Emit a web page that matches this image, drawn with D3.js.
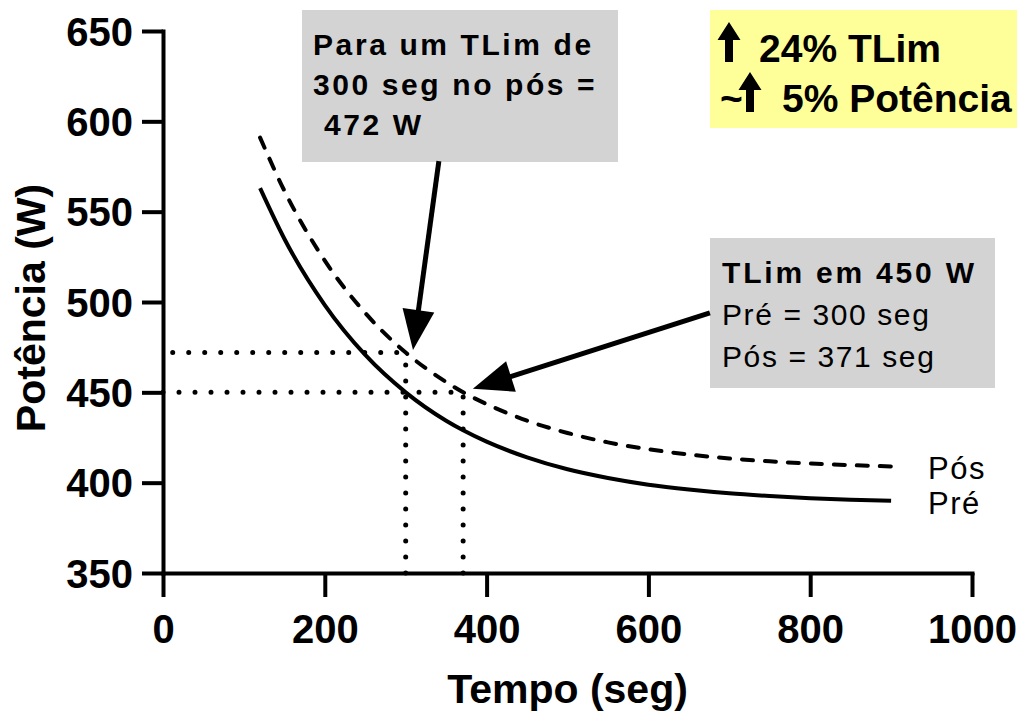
<!DOCTYPE html>
<html>
<head>
<meta charset="utf-8">
<script src="https://cdn.jsdelivr.net/npm/d3@7"></script>
<style>
  html, body { margin: 0; padding: 0; background: #fff; }
  svg { display: block; font-family: "Liberation Sans", Arial, sans-serif; }
  text { white-space: pre; }
</style>
</head>
<body>
<svg id="chart" width="1019" height="716"></svg>
<script>
// Power–duration curves before (Pré) and after (Pós) training
const timeSec = [120, 150, 200, 250, 300, 350, 371, 400, 450, 500, 550, 600, 650, 700, 750, 800, 850, 900];
const powerPre = [563, 535, 498.3, 470.7, 450, 434.3, 429, 422.7, 414, 407.4, 402.6, 398.9, 396.2, 394.1, 392.6, 391.4, 390.6, 390];
const powerPos = [591, 561.6, 522.9, 493.9, 472, 455.7, 450, 443.5, 434.3, 427.5, 422.3, 418.5, 415.6, 413.4, 411.8, 410.6, 409.7, 409];

const xTicks = [0, 200, 400, 600, 800, 1000];
const yTicks = [350, 400, 450, 500, 550, 600, 650];

// Reference points
const tlimPre = 300, tlimPos = 371, refPower = 450, powerAt300Pos = 472;

const svg = d3.select("#chart");
const x = d3.scaleLinear().domain([0, 1000]).range([163, 972]);
const y = d3.scaleLinear().domain([350, 650]).range([573, 31]);

// Axes
const xAxis = svg.append("g")
  .attr("transform", `translate(0,${y(350)})`)
  .call(d3.axisBottom(x).tickValues(xTicks).tickSize(24).tickSizeOuter(0).tickPadding(18).tickFormat(d3.format("d")));
const yAxis = svg.append("g")
  .attr("transform", `translate(${x(0)},0)`)
  .call(d3.axisLeft(y).tickValues(yTicks).tickSize(21).tickSizeOuter(0).tickPadding(9).tickFormat(d3.format("d")));

[xAxis, yAxis].forEach(g => {
  g.select(".domain").attr("stroke", "#000").attr("stroke-width", 4).attr("stroke-linecap", "square");
  g.selectAll(".tick line").attr("stroke", "#000").attr("stroke-width", 4);
  g.selectAll(".tick text").attr("fill", "#000").attr("font-size", 40).attr("font-weight", "bold")
    .attr("font-family", "Liberation Sans, Arial, sans-serif");
});
yAxis.selectAll(".tick text").attr("dy", "0.35em");

// Axis titles
svg.append("text")
  .attr("x", (x(0) + x(1000)) / 2).attr("y", 703)
  .attr("text-anchor", "middle").attr("font-size", 41).attr("font-weight", "bold")
  .text("Tempo (seg)");
svg.append("text")
  .attr("transform", `translate(45,${(y(350) + y(650)) / 2 + 6}) rotate(-90)`)
  .attr("text-anchor", "middle").attr("font-size", 41).attr("font-weight", "bold")
  .text("Potência (W)");

// Dotted reference lines
const dotted = (x1, y1, x2, y2) => svg.append("line")
  .attr("x1", x(x1)).attr("y1", y(y1)).attr("x2", x(x2)).attr("y2", y(y2))
  .attr("stroke", "#000").attr("stroke-width", 5).attr("stroke-linecap", "round")
  .attr("stroke-dasharray", "0 16");
dotted(12, powerAt300Pos, tlimPre, powerAt300Pos);
dotted(0, refPower, tlimPos, refPower);
dotted(tlimPre, 350, tlimPre, powerAt300Pos);
dotted(tlimPos, 350, tlimPos, refPower);

// Curves
const line = d3.line().curve(d3.curveMonotoneX);
svg.append("path")
  .datum(timeSec.map((t, i) => [x(t), y(powerPre[i])]))
  .attr("d", line).attr("fill", "none").attr("stroke", "#000").attr("stroke-width", 4);
svg.append("path")
  .datum(timeSec.map((t, i) => [x(t), y(powerPos[i])]))
  .attr("d", line).attr("fill", "none").attr("stroke", "#000").attr("stroke-width", 4)
  .attr("stroke-linecap", "round").attr("stroke-dasharray", "11 12");

// Series labels
svg.append("text").attr("x", 928).attr("y", y(powerPos[powerPos.length - 1]) + 13)
  .attr("font-size", 31).attr("letter-spacing", 1.5).text("Pós");
svg.append("text").attr("x", 928).attr("y", y(powerPre[powerPre.length - 1]) + 13)
  .attr("font-size", 31).attr("letter-spacing", 1.5).text("Pré");

// Annotation boxes
svg.append("rect").attr("x", 302).attr("y", 10).attr("width", 316).attr("height", 152).attr("fill", "#d3d3d3");
const box1 = ["Para um TLim de", "300 seg no pós =", " 472 W"];
box1.forEach((s, i) => svg.append("text")
  .attr("x", 313).attr("y", 55 + i * 40)
  .attr("font-size", 30).attr("font-weight", "bold").attr("letter-spacing", 2.6)
  .text(s));

svg.append("rect").attr("x", 710).attr("y", 238).attr("width", 285).attr("height", 150).attr("fill", "#d3d3d3");
svg.append("text").attr("x", 722).attr("y", 283)
  .attr("font-size", 30).attr("font-weight", "bold").attr("letter-spacing", 2.8).text("TLim em 450 W");
svg.append("text").attr("x", 722).attr("y", 325)
  .attr("font-size", 30).attr("letter-spacing", 1.6).text("Pré = 300 seg");
svg.append("text").attr("x", 722).attr("y", 367)
  .attr("font-size", 30).attr("letter-spacing", 1.6).text("Pós = 371 seg");

// Summary box
svg.append("rect").attr("x", 710).attr("y", 10).attr("width", 307).attr("height", 118).attr("fill", "#ffff99");
const upArrow = (cx, base) => {
  const top = base - 40, head = 18, hw = 11.5, sw = 4;
  return `M${cx},${top} L${cx + hw},${top + head} L${cx + sw},${top + head} L${cx + sw},${base}
          L${cx - sw},${base} L${cx - sw},${top + head} L${cx - hw},${top + head} Z`;
};
svg.append("path").attr("d", upArrow(729, 62)).attr("fill", "#000");
svg.append("text").attr("x", 759).attr("y", 62).attr("font-size", 39).attr("font-weight", "bold").text("24% TLim");
svg.append("text").attr("x", 720).attr("y", 112).attr("font-size", 39).attr("font-weight", "bold").text("~");
svg.append("path").attr("d", upArrow(750, 112)).attr("fill", "#000");
svg.append("text").attr("x", 782).attr("y", 112).attr("font-size", 39).attr("font-weight", "bold").text("5% Potência");

// Pointer arrows
const pointer = (t0, p0, t1, p1) => {
  const x0 = x(t0), y0 = y(p0), x1 = x(t1), y1 = y(p1);
  const dx = x1 - x0, dy = y1 - y0, len = Math.hypot(dx, dy);
  const ux = dx / len, uy = dy / len, hl = 40, hw = 16;
  const bx = x1 - ux * hl, by = y1 - uy * hl;
  svg.append("line").attr("x1", x0).attr("y1", y0).attr("x2", bx + ux * 2).attr("y2", by + uy * 2)
    .attr("stroke", "#000").attr("stroke-width", 5);
  svg.append("path")
    .attr("d", `M${x1},${y1} L${bx - uy * hw},${by + ux * hw} L${bx + uy * hw},${by - ux * hw} Z`)
    .attr("fill", "#000");
};
pointer(341, 578, 309, 473.5);
pointer(676, 494, 383, 452);
</script>
</body>
</html>
